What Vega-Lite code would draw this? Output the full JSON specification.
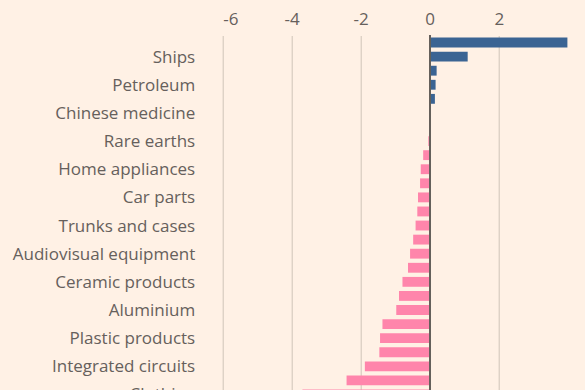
{
  "$schema": "https://vega.github.io/schema/vega-lite/v6.json",
  "autosize": {"type": "none"},
  "width": 344.7,
  "height": 366,
  "padding": {"left": 222.7, "top": 35.5, "right": 17.6, "bottom": -11.5},
  "background": "#fff1e5",
  "config": {"view": {"stroke": null}, "font": "Open Sans"},
  "data": {
    "values": [
      {"name": "#1", "value": 3.99},
      {"name": "Ships", "value": 1.10},
      {"name": "#3", "value": 0.20},
      {"name": "Petroleum", "value": 0.17},
      {"name": "#5", "value": 0.15},
      {"name": "Chinese medicine", "value": 0.005},
      {"name": "#7", "value": -0.005},
      {"name": "Rare earths", "value": -0.04},
      {"name": "#9", "value": -0.19},
      {"name": "Home appliances", "value": -0.26},
      {"name": "#11", "value": -0.28},
      {"name": "Car parts", "value": -0.34},
      {"name": "#13", "value": -0.36},
      {"name": "Trunks and cases", "value": -0.41},
      {"name": "#15", "value": -0.48},
      {"name": "Audiovisual equipment", "value": -0.57},
      {"name": "#17", "value": -0.63},
      {"name": "Ceramic products", "value": -0.79},
      {"name": "#19", "value": -0.89},
      {"name": "Aluminium", "value": -0.97},
      {"name": "#21", "value": -1.37},
      {"name": "Plastic products", "value": -1.44},
      {"name": "#23", "value": -1.46},
      {"name": "Integrated circuits", "value": -1.88},
      {"name": "#25", "value": -2.41},
      {"name": "Clothing", "value": -3.69}
    ]
  },
  "layer": [
    {
      "mark": {"type": "bar"},
      "encoding": {
        "y": {
          "field": "name", "type": "nominal", "sort": null,
          "scale": {"paddingInner": 0.3, "paddingOuter": 0.15},
          "axis": {"title": null, "ticks": false, "domain": false, "labelFontSize": 17, "labelColor": "#66605c", "labelPadding": 28, "labelLimit": 300, "labelOffset": 1, "labelExpr": "indexof(datum.label,'#')==0 ? '' : datum.label"}
        },
        "x": {
          "field": "value", "type": "quantitative",
          "scale": {"domain": [-6, 3.99], "nice": false, "zero": false},
          "axis": {"orient": "top", "values": [-6, -4, -2, 0, 2], "labelExpr": "toString(datum.value)", "grid": true, "gridColor": "#cfc4b9", "gridWidth": 1, "domain": false, "ticks": false, "labelFontSize": 17, "labelColor": "#66605c", "labelPadding": 7, "title": null}
        },
        "color": {"condition": {"test": "datum.value > 0", "value": "#3b6493"}, "value": "#ff85ab"}
      }
    },
    {
      "mark": {"type": "rule", "color": "#66605c", "strokeWidth": 1},
      "encoding": {"x": {"datum": 0}}
    }
  ]
}
